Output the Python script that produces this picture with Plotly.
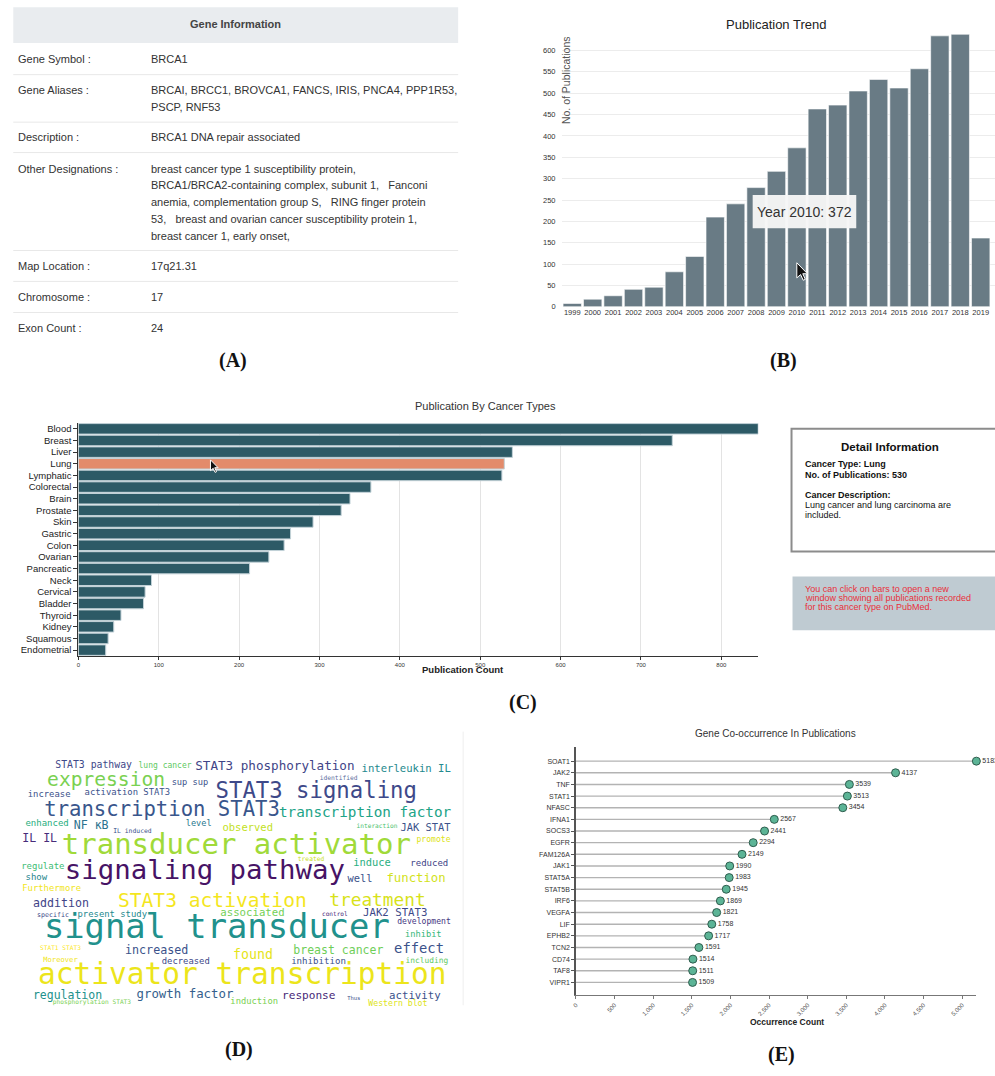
import plotly.graph_objects as go

W, H = 995, 1076


def fx(px):
    return px / W


def fy(py):
    return 1 - py / H


# ---------------- data ----------------
# (A) gene information table
GENE_FIELDS = ["Gene Symbol :", "Gene Aliases :", "Description :", "Other Designations :",
               "Map Location :", "Chromosome :", "Exon Count :"]
GENE_VALUES = [
    ["BRCA1"],
    ["BRCAI, BRCC1, BROVCA1, FANCS, IRIS, PNCA4, PPP1R53,", "PSCP, RNF53"],
    ["BRCA1 DNA repair associated"],
    ["breast cancer type 1 susceptibility protein,",
     "BRCA1/BRCA2-containing complex, subunit 1,   Fanconi",
     "anemia, complementation group S,   RING finger protein",
     "53,   breast and ovarian cancer susceptibility protein 1,",
     "breast cancer 1, early onset,"],
    ["17q21.31"],
    ["17"],
    ["24"],
]

# (B) publications per year
YEARS = [str(y) for y in range(1999, 2020)]
PUB_COUNTS = [8, 18, 26, 41, 46, 82, 118, 210, 241, 279, 317, 372,
              463, 472, 505, 532, 512, 557, 634, 638, 161]
HOVER_YEAR = "2010"

# (C) publications by cancer type
CANCER_TYPES = ["Blood", "Breast", "Liver", "Lung", "Lymphatic", "Colorectal", "Brain",
                "Prostate", "Skin", "Gastric", "Colon", "Ovarian", "Pancreatic", "Neck",
                "Cervical", "Bladder", "Thyroid", "Kidney", "Squamous", "Endometrial"]
CANCER_COUNTS = [846, 739, 540, 530, 527, 364, 338, 327, 292, 264, 256, 237, 213,
                 91, 83, 81, 53, 44, 37, 34]
SELECTED_TYPE = "Lung"
SELECTED_DESCRIPTION = ["Lung cancer and lung carcinoma are", "included."]

# (D) word cloud terms and their weights (rendered font size)
WORDS = ["STAT3 pathway", "lung cancer", "STAT3 phosphorylation", "interleukin IL", "identified",
         "expression", "sup sup", "STAT3 signaling", "increase", "activation STAT3",
         "transcription STAT3", "transcription factor", "enhanced", "NF κB", "level",
         "IL induced", "observed", "JAK STAT", "interaction", "IL IL",
         "transducer activator", "promote", "signaling pathway", "regulate", "show",
         "treated", "induce", "reduced", "well", "function",
         "Furthermore", "STAT3 activation", "treatment", "addition", "specific",
         "present study", "associated", "control", "JAK2 STAT3", "development",
         "signal transducer", "inhibit", "increased", "found", "breast cancer",
         "effect", "STAT1 STAT3", "Moreover", "decreased", "inhibition",
         "including", "activator transcription", "regulation", "growth factor",
         "phosphorylation STAT3", "induction", "response", "Thus", "activity", "Western blot"]
WORD_WEIGHTS = [9.8, 8, 12.6, 10.6, 6.3,
                19.6, 8.7, 22.3, 8.9, 8.9,
                20.6, 14.3, 9, 11.6, 8.6,
                6.4, 10.5, 10.4, 6.2, 11.6,
                29, 8.1, 27.4, 9, 9,
                6.3, 10.4, 9, 10.4, 12.3,
                8.9, 19.6, 17.8, 11.6, 6.6,
                8.9, 10.7, 6.1, 10.7, 8.1,
                33.8, 8.7, 11.7, 13.3, 11.5,
                13.8, 6.2, 7.2, 8.9, 9.1,
                7.9, 29.5, 11.5, 12.4,
                6.2, 8.8, 11.1, 5.5, 10.7, 8.2]

# (E) gene co-occurrence
GENES = ["SOAT1", "JAK2", "TNF", "STAT1", "NFASC", "IFNA1", "SOCS3", "EGFR", "FAM126A", "JAK1",
         "STAT5A", "STAT5B", "IRF6", "VEGFA", "LIF", "EPHB2", "TCN2", "CD74", "TAF8", "VIPR1"]
GENE_COUNTS = [5183, 4137, 3539, 3513, 3454, 2567, 2441, 2294, 2149, 1990,
               1983, 1945, 1869, 1821, 1758, 1717, 1591, 1514, 1511, 1509]

# ---------------- word cloud placement ----------------
WORD_X = [90, 161.7, 272, 403.8, 336,
          102.5, 186.7, 313.5, 45.3, 123.8,
          158.7, 362.5, 43.3, 87.5, 195.5,
          129, 244.7, 423.3, 374.5, 35.8,
          233.3, 431.3, 201.7, 39, 32.5,
          308.3, 369.5, 427, 357.5, 413.7,
          47.8, 209.2, 375, 57.2, 49.2,
          108.7, 249.5, 332.2, 392.8, 421.7,
          213.7, 421, 153.3, 250, 335.7,
          416.7, 56.7, 56.7, 182.5, 315.8,
          424.7, 239.2, 63.8, 181.7,
          88.3, 251.2, 306, 351.2, 412.5, 395.5]
WORD_Y = [763.3, 763.7, 764.3, 766.7, 776,
          778.3, 780, 790, 792, 790.7,
          809, 811.7, 821.7, 824.3, 821.7,
          829.3, 826, 826, 824.3, 837.3,
          845, 837.7, 870.5, 865, 875.7,
          857.3, 861.7, 861.7, 877.3, 876.7,
          887.3, 900, 899.3, 902.7, 913.3,
          912.7, 911.7, 912.7, 911.7, 920.7,
          928, 932.7, 949.3, 954, 950,
          948.3, 946.7, 958.3, 960, 960,
          959.3, 975.5, 994.3, 993.3,
          1000.7, 1000, 995, 997.7, 995, 1002.7]
WORD_COLORS = ["#3e4989", "#5ec962", "#414487", "#23898e", "#5d6ea0",
               "#7ad151", "#3b528b", "#3e4989", "#3b528b", "#3b528b",
               "#39568c", "#20a386", "#28ae80", "#2c728e", "#2a788e",
               "#3b528b", "#c2df23", "#3b528b", "#4ac16d", "#472c7a",
               "#a0da39", "#dde318", "#471365", "#3dbc74", "#25858e",
               "#c8e020", "#29af7f", "#414487", "#3b528b", "#d2e21b",
               "#f1e51d", "#f4e61e", "#d8e219", "#414487", "#3e4989",
               "#23898e", "#73d056", "#482878", "#3e4989", "#453781",
               "#21918c", "#35b779", "#3b528b", "#e5e419", "#6ece58",
               "#3b528b", "#fde725", "#f1e51d", "#3e4989", "#3b528b",
               "#5ec962", "#ece51b", "#21918c", "#355f8d",
               "#7ad151", "#7ad151", "#482878", "#3b528b", "#3b528b", "#dde318"]

SANS = "Liberation Sans, Arial, sans-serif"
TEXT = "#333333"

fig = go.Figure()
annotations = []
shapes = []


def note(px, py, text, size, color=TEXT, xanchor="left", bold=False, family=SANS, **kw):
    if bold:
        text = "<b>" + text + "</b>"
    if xanchor == "left":
        px -= 4  # annotation boxes carry a small inner padding
    annotations.append(dict(x=fx(px), y=fy(py), xref="paper", yref="paper", text=text,
                            showarrow=False, xanchor=xanchor, yanchor="middle",
                            font=dict(size=size, color=color, family=family), **kw))


def rect(x0, y0, x1, y1, fill, line_color=None, line_width=0, layer="above"):
    shapes.append(dict(type="rect", xref="paper", yref="paper",
                       x0=fx(x0), x1=fx(x1), y0=fy(y1), y1=fy(y0), fillcolor=fill,
                       line=dict(color=line_color or fill, width=line_width), layer=layer))


def hline(x0, x1, y, color, width=1):
    shapes.append(dict(type="line", xref="paper", yref="paper",
                       x0=fx(x0), x1=fx(x1), y0=fy(y), y1=fy(y),
                       line=dict(color=color, width=width), layer="below"))


def cursor(tx, ty, s):
    pts = [(0, 0), (0, 16), (4, 12.5), (6.8, 18.5), (9, 17.5), (6.3, 11.6), (11.3, 11.6)]
    d = "M " + " L ".join(f"{fx(tx + px * s):.5f},{fy(ty + py * s):.5f}" for px, py in pts) + " Z"
    shapes.append(dict(type="path", xref="paper", yref="paper", path=d, fillcolor="#111111",
                       line=dict(color="#ffffff", width=1), layer="above"))


# ---------------- (A) table ----------------
rect(9.3, 7.3, 456, 43.3, "#e9ecef", layer="below")
note(232.5, 24.5, "Gene Information", 11, color="#444444", xanchor="center", bold=True)
row_y = [59.3, 90, 137.7, 169.3, 267.7, 298.3, 329.3]
for field, lines, y0 in zip(GENE_FIELDS, GENE_VALUES, row_y):
    note(16, y0, field, 11)
    for i, line in enumerate(lines):
        note(150, y0 + i * 17, line, 11)
for ys in [75, 122.7, 153.3, 251.7, 282.7, 314]:
    hline(9.3, 456, ys, "#e8e8e8", 1)

# ---------------- (B) publication trend ----------------
fig.add_trace(go.Bar(x=YEARS, y=PUB_COUNTS, marker=dict(color="#697b85", line=dict(color="#ffffff", width=0.6)),
                     xaxis="x", yaxis="y", hoverinfo="skip", showlegend=False))
note(774.7, 24.3, "Publication Trend", 13, color="#222222", xanchor="center")
annotations.append(dict(x=fx(565), y=fy(34.5), xref="paper", yref="paper", text="No. of Publications",
                        textangle=-90, showarrow=False, xanchor="center", yanchor="top",
                        font=dict(size=10.5, color="#555555", family=SANS)))
hover_value = PUB_COUNTS[YEARS.index(HOVER_YEAR)]
rect(751.7, 196, 855.7, 229.3, "rgba(246,246,246,0.96)")
note(803.7, 212.7, f"Year {HOVER_YEAR}: {hover_value}", 14, color="#333333", xanchor="center")
cursor(796, 264, 0.95)

# ---------------- (C) publications by cancer type ----------------
bar_colors = ["#e38b6b" if t == SELECTED_TYPE else "#2d5a66" for t in CANCER_TYPES]
fig.add_trace(go.Bar(y=CANCER_TYPES, x=CANCER_COUNTS, orientation="h",
                     marker=dict(color=bar_colors, line=dict(color="#c3d2d8", width=1)),
                     xaxis="x2", yaxis="y2", hoverinfo="skip", showlegend=False))
note(483, 407.5, "Publication By Cancer Types", 11, color="#333333", xanchor="center")
note(461, 673, "Publication Count", 9.5, color="#222222", xanchor="center", bold=True)
cursor(207.3, 462, 0.68)

# detail panel
sel_count = CANCER_COUNTS[CANCER_TYPES.index(SELECTED_TYPE)]
rect(790.7, 430.7, 1000, 554, "#ffffff", line_color="#8c8c8c", line_width=2)
note(889.7, 449.3, "Detail Information", 11.5, color="#111111", xanchor="center", bold=True)
note(806, 465.7, f"Cancer Type: {SELECTED_TYPE}", 9, color="#111111", bold=True)
note(806, 477.3, f"No. of Publications: {sel_count}", 9, color="#111111", bold=True)
note(806, 497.7, "Cancer Description:", 9, color="#111111", bold=True)
for i, line in enumerate(SELECTED_DESCRIPTION):
    note(806, 507.3 + i * 9.7, line, 9, color="#111111")
rect(791.7, 579.3, 1000, 633.3, "#bfcbd2")
for i, line in enumerate(["You can click on bars to open a new",
                          "window showing all publications recorded",
                          "for this cancer type on PubMed."]):
    note(806, 591.7 + i * 9, line, 9, color="#e8303a")

# ---------------- (D) word cloud ----------------
fig.add_trace(go.Scatter(x=WORD_X, y=WORD_Y, mode="text", text=WORDS,
                         textposition="middle center",
                         textfont=dict(size=WORD_WEIGHTS, color=WORD_COLORS,
                                       family="DejaVu Sans Mono, monospace"),
                         xaxis="x4", yaxis="y4", hoverinfo="skip", showlegend=False,
                         cliponaxis=False))
shapes.append(dict(type="line", xref="paper", yref="paper", x0=fx(461), x1=fx(461),
                   y0=fy(1010), y1=fy(735), line=dict(color="#eeeeee", width=1)))

# ---------------- (E) gene co-occurrence ----------------
rows = list(range(len(GENES)))
stem_x, stem_y = [], []
for r, v in zip(rows, GENE_COUNTS):
    stem_x += [0, v, None]
    stem_y += [r, r, None]
fig.add_trace(go.Scatter(x=stem_x, y=stem_y, mode="lines", line=dict(color="#b3b3b3", width=1.4),
                         xaxis="x3", yaxis="y3", hoverinfo="skip", showlegend=False))
fig.add_trace(go.Scatter(x=GENE_COUNTS, y=rows, mode="markers+text",
                         text=[str(v) for v in GENE_COUNTS], textposition="middle right",
                         textfont=dict(size=7, color="#333333", family=SANS),
                         marker=dict(size=8, color="#5cb496", line=dict(color="#2f5d4e", width=1)),
                         xaxis="x3", yaxis="y3", hoverinfo="skip", showlegend=False,
                         cliponaxis=False))
note(774.7, 737, "Gene Co-occurrence In Publications", 10, color="#333333", xanchor="center")
note(785.7, 1027, "Occurrence Count", 8.5, color="#222222", xanchor="center", bold=True)

# ---------------- panel captions ----------------
for lab, px, py in [("(A)", 230, 362), ("(B)", 783, 362), ("(C)", 521, 706),
                    ("(D)", 236, 1054), ("(E)", 781, 1059)]:
    note(px, py, lab, 20, color="#111111", xanchor="center", bold=True,
         family="Liberation Serif, Times New Roman, serif")

# ---------------- axes ----------------
tick_small = dict(family=SANS, color="#333333")
fig.update_layout(
    width=W, height=H, margin=dict(l=0, r=0, t=0, b=0),
    paper_bgcolor="#ffffff", plot_bgcolor="rgba(0,0,0,0)",
    showlegend=False, bargap=0.1,
    annotations=annotations, shapes=shapes,
    xaxis=dict(domain=[fx(560.3), fx(995)], anchor="y", type="category", range=[-0.5, 20.7],
               tickangle=0, tickfont=dict(size=7.5, **tick_small), showgrid=False,
               showline=False, ticks="", fixedrange=True),
    yaxis=dict(domain=[fy(308.3), fy(34.3)], anchor="x", range=[0, 638], dtick=50,
               tickfont=dict(size=7.5, **tick_small), showgrid=True, gridcolor="#ececec",
               zeroline=False, showline=False, ticks="outside", ticklen=4, tickcolor="rgba(0,0,0,0)"),
    xaxis2=dict(domain=[fx(74.7), fx(757.3)], anchor="y2", range=[0, 846],
                tickvals=list(range(0, 900, 100)), tickfont=dict(size=6, **tick_small),
                showgrid=True, gridcolor="#e3e3e3", zeroline=False, showline=True,
                linecolor="#333333", linewidth=1, ticks="outside", ticklen=3, tickcolor="#333333"),
    yaxis2=dict(domain=[fy(659), fy(425)], anchor="x2", type="category",
                categoryorder="array", categoryarray=CANCER_TYPES,
                range=[len(CANCER_TYPES) - 0.5, -0.5],
                tickfont=dict(size=9.5, color="#222222", family=SANS), showgrid=False,
                showline=True, linecolor="#333333", linewidth=1, ticks="outside", ticklen=4,
                tickcolor="#333333"),
    xaxis3=dict(domain=[fx(574.3), fx(976.3)], anchor="y3", range=[0, 5183], dtick=500,
                tickformat=",d", tickangle=-45, tickfont=dict(size=6, color="#555555", family=SANS),
                showgrid=False, zeroline=False, showline=True, linecolor="#777777",
                ticks="outside", ticklen=3, tickcolor="#777777"),
    yaxis3=dict(domain=[fy(1000), fy(750)], anchor="x3", range=[20.11, -1.256],
                tickvals=rows, ticktext=GENES, tickfont=dict(size=7, color="#333333", family=SANS),
                showgrid=False, zeroline=False, showline=True, linecolor="#555555", linewidth=1.5,
                ticks="outside", ticklen=3, tickcolor="#555555"),
    xaxis4=dict(domain=[0, fx(470)], anchor="y4", range=[0, 470], visible=False),
    # word positions are given in page pixels; the range is offset to centre glyphs on them
    yaxis4=dict(domain=[fy(1020), fy(730)], anchor="x4", range=[1014, 724], visible=False),
)

fig.write_html("out.html")
